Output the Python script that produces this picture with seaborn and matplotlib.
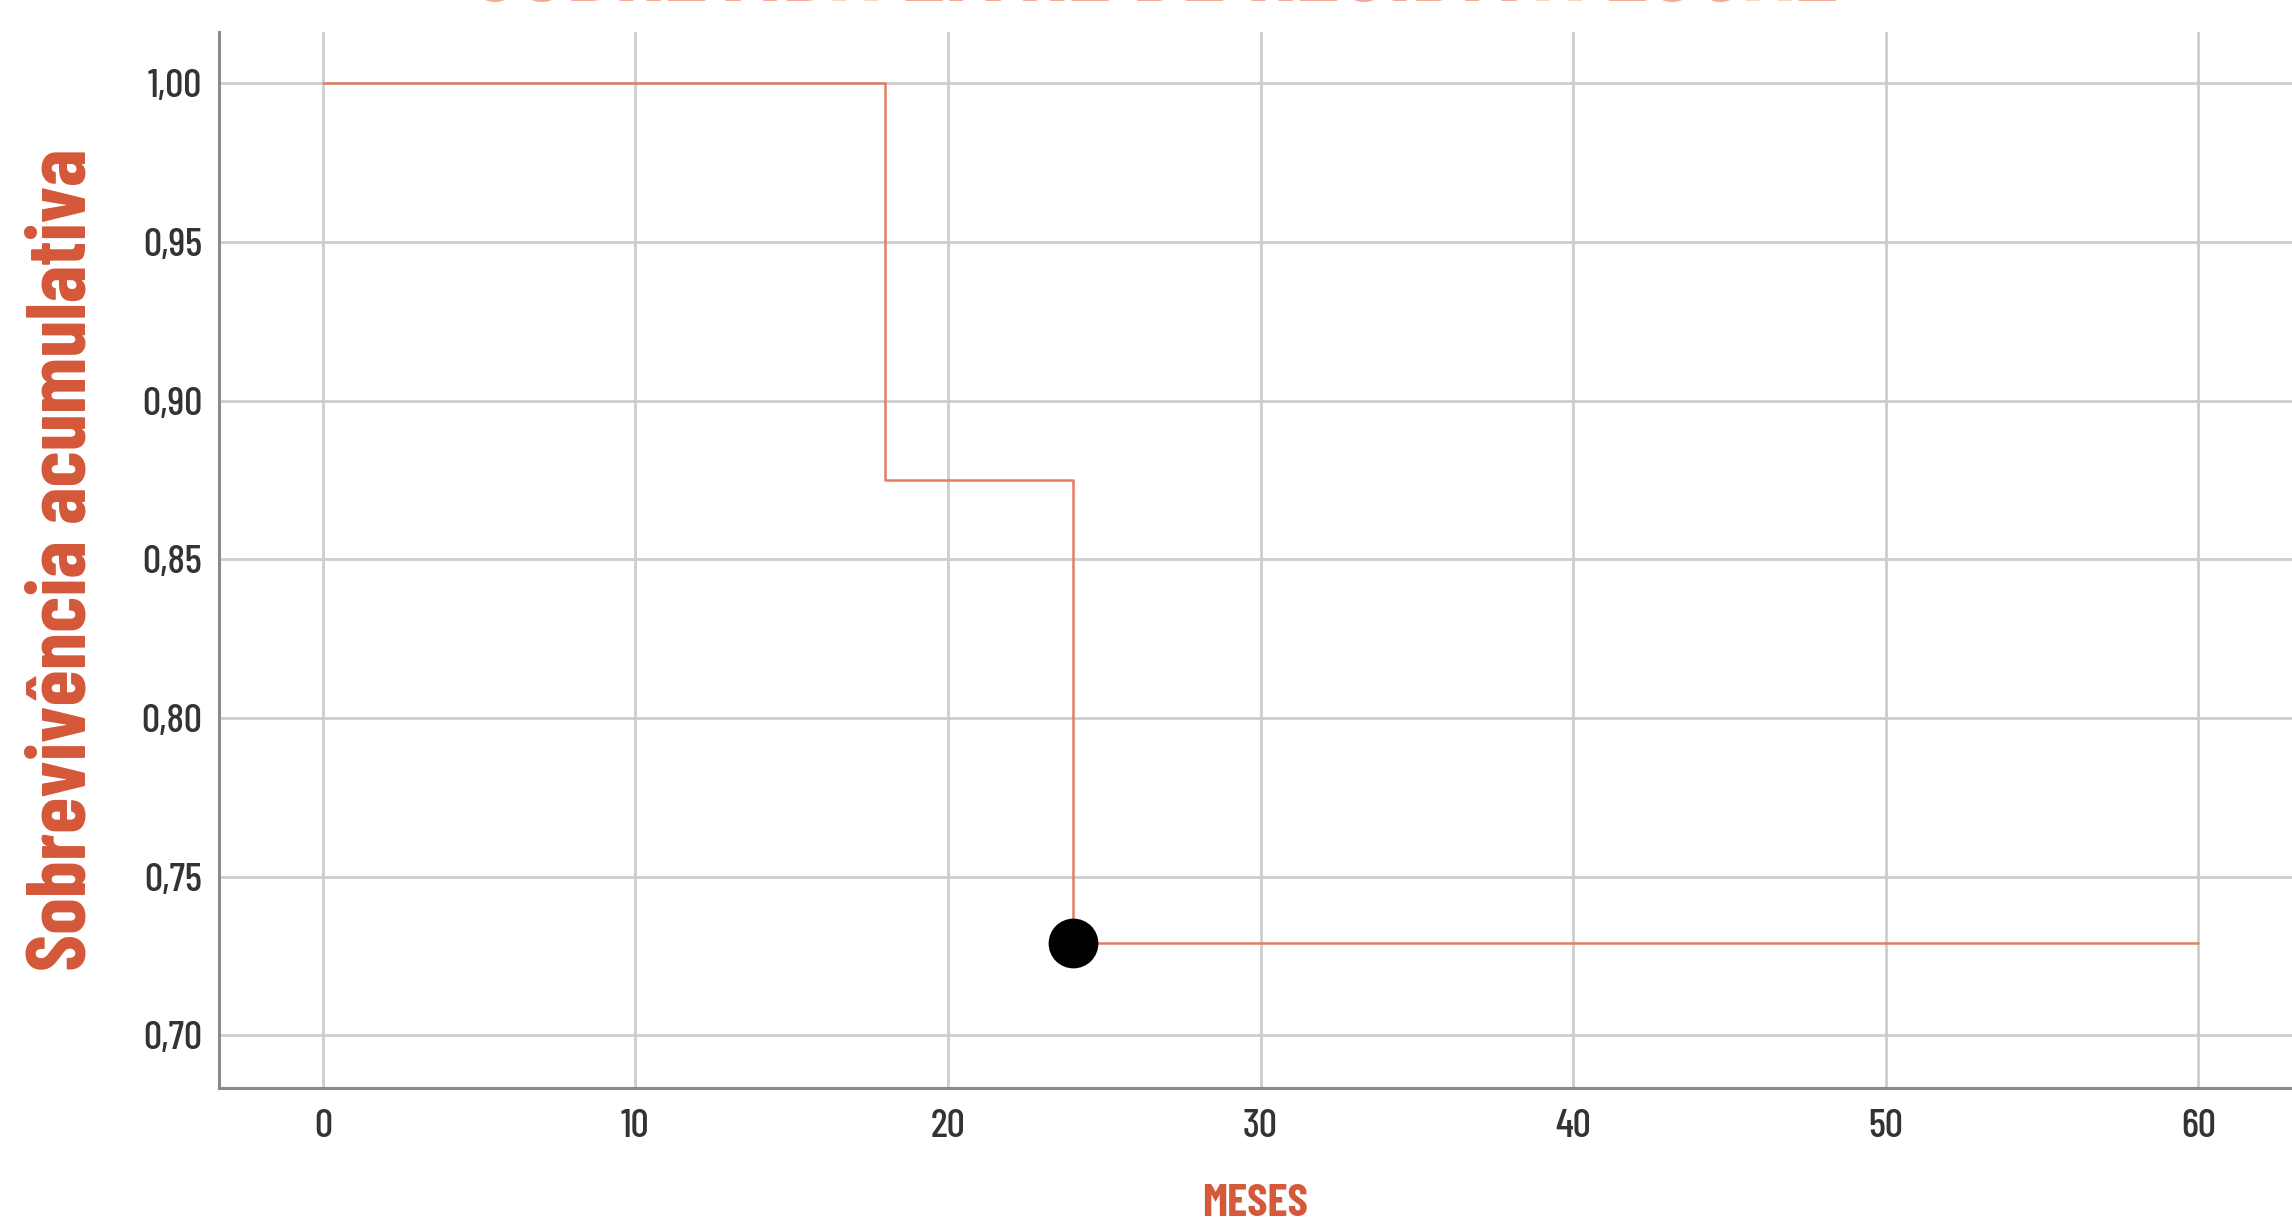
import matplotlib
matplotlib.use("Agg")
import matplotlib.pyplot as plt
import seaborn as sns
import pandas as pd

# ---- data ----
meses = [0, 18, 24, 60]
sobrevida = [1.00, 0.875, 0.729, 0.729]
censura_meses = [24]
censura_sobrevida = [0.729]
xticks = [0, 10, 20, 30, 40, 50, 60]
yticks = [0.70, 0.75, 0.80, 0.85, 0.90, 0.95, 1.00]
ytick_labels = ["0,70", "0,75", "0,80", "0,85", "0,90", "0,95", "1,00"]
titulo = "SOBREVIDA LIVRE DE RECIDIVA LOCAL"
xlabel = "MESES"
ylabel = "Sobrevivência acumulativa"

sns.set_theme(style="white")
plt.rcParams['font.family'] = ['Barlow Condensed', 'DejaVu Sans']

W, H = 2292, 1226
fig = plt.figure(figsize=(W / 100, H / 100), dpi=100)
ax = fig.add_axes([219 / W, 1 - 1088 / H, 1 - 219 / W, (1088 - 32) / H])

df = pd.DataFrame({"meses": meses, "sobrevida": sobrevida})
dfc = pd.DataFrame({"meses": censura_meses, "sobrevida": censura_sobrevida})

line_color = "#e47d66"
sns.lineplot(data=df, x="meses", y="sobrevida", ax=ax, drawstyle="steps-post",
             color=line_color, linewidth=1.8, zorder=3, sort=False)
sns.scatterplot(data=dfc, x="meses", y="sobrevida", ax=ax, s=1100, color="black",
                edgecolor="black", zorder=4)

ax.set_xlim(-3.32, 63.0)
ax.set_ylim(0.6834, 1.0161)
ax.set_xticks(xticks)
ax.set_xticklabels([str(t) for t in xticks])
ax.set_yticks(yticks)
ax.set_yticklabels(ytick_labels)

ax.grid(True, color="#cdcdcd", linewidth=2.0)
ax.set_axisbelow(True)
for s in ["top", "right"]:
    ax.spines[s].set_visible(False)
for s in ["left", "bottom"]:
    ax.spines[s].set_color("#8a8a8a")
    ax.spines[s].set_linewidth(2.2)

ax.tick_params(axis="both", length=0, labelsize=29, labelcolor="#333333")
for lbl in ax.get_xticklabels() + ax.get_yticklabels():
    lbl.set_fontweight(500)
ax.tick_params(axis="y", pad=12)
ax.tick_params(axis="x", pad=15)

ax.set_xlabel(xlabel, fontsize=33, fontweight="bold", color="#d4583a", va="center")
ax.xaxis.set_label_coords(0.5, -0.110)
ax.set_ylabel(ylabel, fontsize=60, fontweight="bold", color="#d4583a", va="center")
ax.yaxis.set_label_coords(-0.0748, 0.5)

fig.text(0.504, 1 - 1 / H, titulo, ha="center", va="baseline", fontsize=74,
         fontweight="bold", color="#f2ab94")

fig.savefig("out.png", dpi=100)
